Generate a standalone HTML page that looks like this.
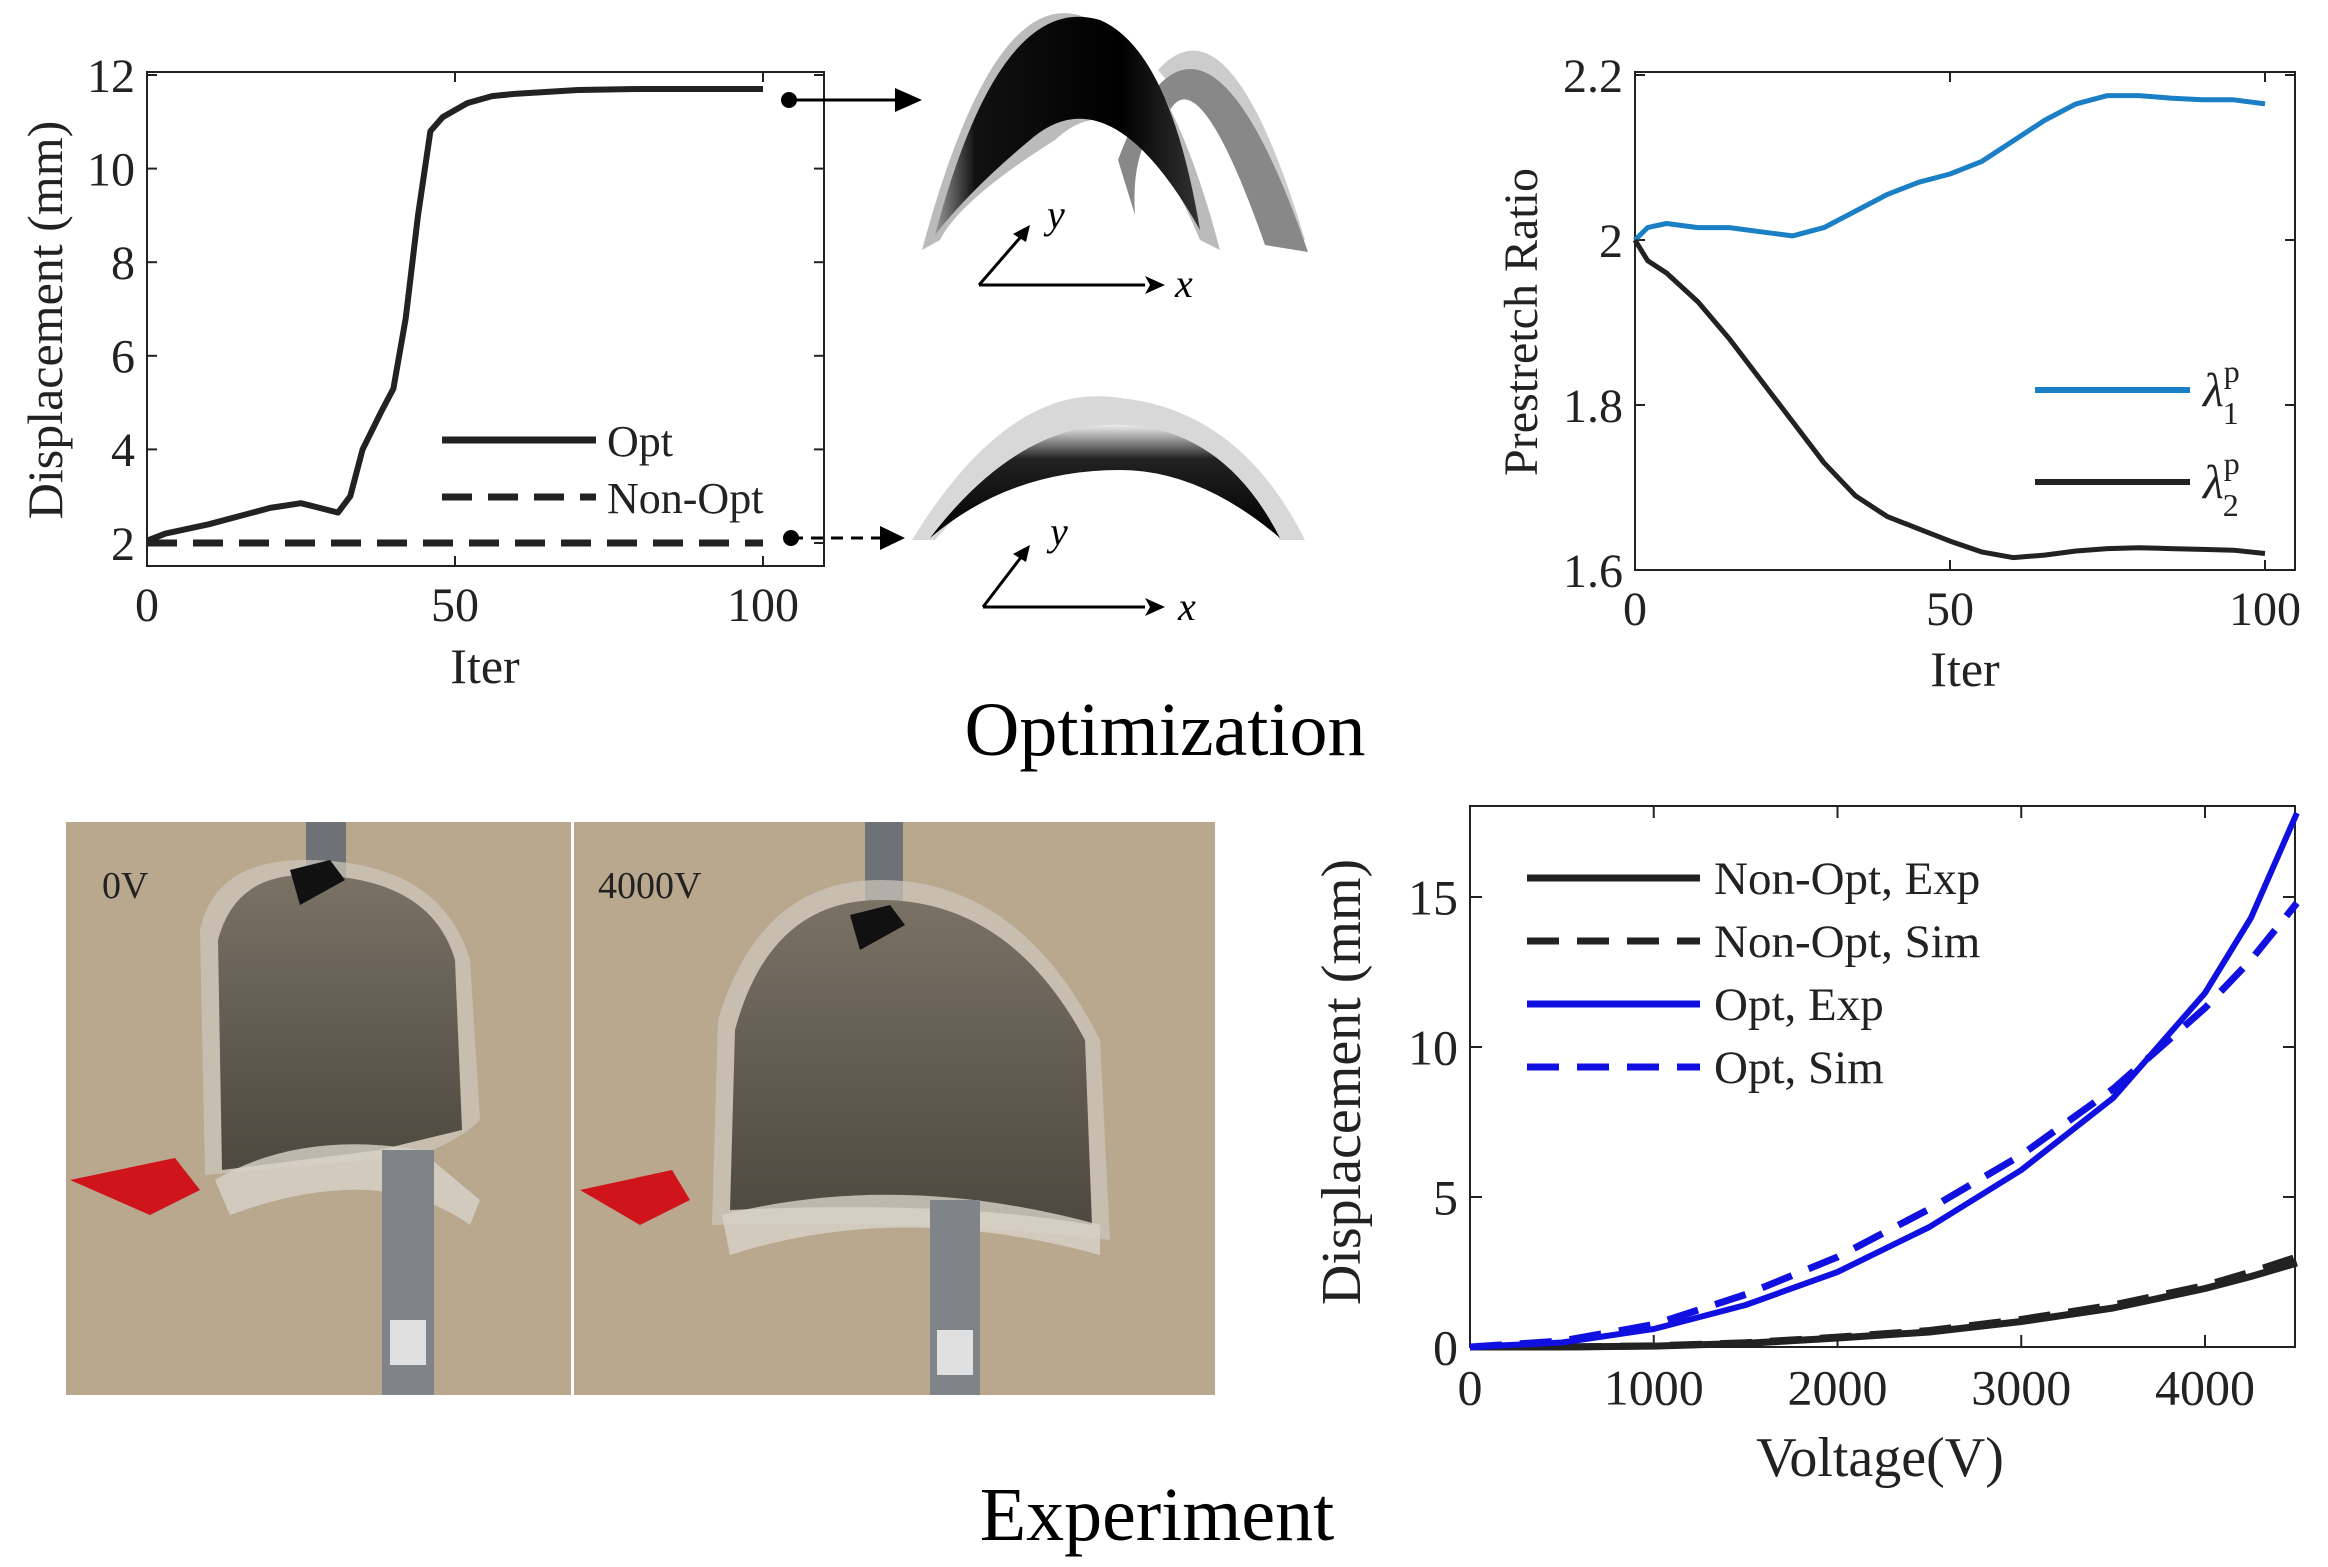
<!DOCTYPE html>
<html><head><meta charset="utf-8">
<style>
html,body{margin:0;padding:0;background:#fff;}
svg{display:block;font-family:"Liberation Serif",serif;}
</style></head>
<body>
<svg id="fig" width="2328" height="1567" viewBox="0 0 2328 1567" xmlns="http://www.w3.org/2000/svg">
<defs>
  <linearGradient id="gdark" x1="0" y1="0" x2="1" y2="0">
    <stop offset="0" stop-color="#999"/><stop offset="0.15" stop-color="#111"/><stop offset="0.7" stop-color="#000"/><stop offset="1" stop-color="#333"/>
  </linearGradient>
  <linearGradient id="gflat" x1="0" y1="0" x2="0" y2="1">
    <stop offset="0" stop-color="#eee"/><stop offset="0.3" stop-color="#222"/><stop offset="1" stop-color="#000"/>
  </linearGradient>
  <linearGradient id="gmem" x1="0" y1="0" x2="0" y2="1">
    <stop offset="0" stop-color="#7a7264"/><stop offset="0.6" stop-color="#5e584e"/><stop offset="1" stop-color="#4e4940"/>
  </linearGradient>
</defs>

<!-- ===== Top-left chart ===== -->
<g id="tl">
  <rect x="147" y="72" width="677" height="494" fill="#fff" stroke="#222" stroke-width="2"/>
  <text transform="translate(62,320) rotate(-90)" text-anchor="middle" font-size="50" fill="#222">Displacement (mm)</text>
  <text x="485" y="683" text-anchor="middle" font-size="50" fill="#222">Iter</text>
  <g>
    <line x1="442" y1="440" x2="596" y2="440" stroke="#222" stroke-width="7"/>
    <text x="607" y="456" font-size="44" fill="#222">Opt</text>
    <line x1="442" y1="497" x2="596" y2="497" stroke="#222" stroke-width="7" stroke-dasharray="30,16"/>
    <text x="607" y="513" font-size="44" fill="#222">Non-Opt</text>
  </g>
</g>

<!-- shapes -->
<g>
  <path d="M1158,70 Q1230,-10 1305,240 L1285,240 Q1230,40 1175,90 Z" fill="#ccc"/>
  <path d="M1118,160 Q1200,-60 1308,252 L1265,245 Q1200,60 1170,110 Q1130,140 1135,215 Z" fill="#888"/>
  <path d="M922,250 Q1000,-40 1100,25 Q1170,60 1220,250 L1200,240 Q1130,70 1055,140 Q960,200 940,240 Z" fill="#bbb"/>
  <path d="M935,235 Q1000,-10 1100,20 Q1170,50 1200,230 Q1110,70 1030,140 Q970,190 935,235 Z" fill="url(#gdark)"/>
  <line x1="979" y1="285" x2="1145" y2="285" stroke="#000" stroke-width="3"/>
  <polygon points="1145,276 1150,285 1145,294 1165,285" fill="#000"/>
  <line x1="979" y1="285" x2="1025" y2="232" stroke="#000" stroke-width="3"/>
  <polygon points="1030,225 1013,234 1026,242" fill="#000"/>
  <text x="1047" y="228" font-size="40" font-style="italic" fill="#000">y</text>
  <text x="1175" y="297" font-size="40" font-style="italic" fill="#000">x</text>
</g>
<g>
  <path d="M912,540 Q1010,380 1120,398 Q1240,410 1305,540 L1280,540 Q1220,440 1130,440 Q1020,440 935,540 Z" fill="#d8d8d8"/>
  <path d="M930,538 Q1020,420 1125,425 Q1225,430 1280,538 Q1200,470 1120,470 Q1010,470 930,538 Z" fill="url(#gflat)"/>
  <line x1="983" y1="607" x2="1145" y2="607" stroke="#000" stroke-width="3"/>
  <polygon points="1145,598 1150,607 1145,616 1165,607" fill="#000"/>
  <line x1="983" y1="607" x2="1025" y2="552" stroke="#000" stroke-width="3"/>
  <polygon points="1030,545 1013,554 1026,562" fill="#000"/>
  <text x="1050" y="545" font-size="40" font-style="italic" fill="#000">y</text>
  <text x="1178" y="620" font-size="40" font-style="italic" fill="#000">x</text>
</g>
<g>
  <circle cx="789" cy="100" r="8" fill="#000"/>
  <line x1="789" y1="100" x2="895" y2="100" stroke="#000" stroke-width="3"/>
  <polygon points="895,88 922,100 895,112" fill="#000"/>
  <circle cx="791" cy="538" r="8" fill="#000"/>
  <line x1="791" y1="538" x2="880" y2="538" stroke="#000" stroke-width="3" stroke-dasharray="12,8"/>
  <polygon points="880,526 905,538 880,550" fill="#000"/>
</g>

<!-- ===== Top-right chart ===== -->
<g id="tr">
  <rect x="1635" y="72" width="660" height="498" fill="#fff" stroke="#222" stroke-width="2"/>
  <text transform="translate(1537,322) rotate(-90)" text-anchor="middle" font-size="48" fill="#222">Prestretch Ratio</text>
  <text x="1965" y="686" text-anchor="middle" font-size="50" fill="#222">Iter</text>
  <g>
    <line x1="2035" y1="390" x2="2190" y2="390" stroke="#1a7fc4" stroke-width="6"/>
    <text x="2203" y="406" font-size="48" fill="#222"><tspan font-style="italic">λ</tspan><tspan font-size="32" dy="-24">p</tspan><tspan font-size="32" dx="-17" dy="42">1</tspan></text>
    <line x1="2035" y1="482" x2="2190" y2="482" stroke="#222" stroke-width="6"/>
    <text x="2203" y="498" font-size="48" fill="#222"><tspan font-style="italic">λ</tspan><tspan font-size="32" dy="-24">p</tspan><tspan font-size="32" dx="-17" dy="42">2</tspan></text>
  </g>
</g>

<text x="1165" y="755" text-anchor="middle" font-size="76" fill="#000">Optimization</text>

<!-- ===== Photos ===== -->
<g>
  <g>
    <rect x="66" y="822" width="505" height="573" fill="#b9a88e"/>
    <rect x="306" y="822" width="40" height="70" fill="#6e7276"/>
    <path d="M205,1175 L200,930 Q215,860 305,860 Q440,860 470,960 L480,1120 Q460,1140 420,1155 Z" fill="#cfc8bd" opacity="0.7"/>
    <path d="M222,1170 L218,940 Q235,875 305,875 Q430,875 455,960 L462,1130 Q420,1140 380,1150 Z" fill="url(#gmem)"/>
    <path d="M290,870 L330,860 L345,880 L300,905 Z" fill="#111"/>
    <path d="M215,1180 Q300,1130 420,1150 L480,1200 L470,1225 Q380,1160 230,1215 Z" fill="#d8d2c8" opacity="0.8"/>
    <rect x="382" y="1150" width="52" height="245" fill="#7f8488"/>
    <rect x="390" y="1320" width="36" height="45" fill="#e0e0e0"/>
    <path d="M70,1180 L175,1158 L200,1190 L150,1215 Z" fill="#d0141c"/>
    <text x="102" y="898" font-size="38" fill="#222">0V</text>
  </g>
  <rect x="571" y="822" width="3" height="573" fill="#fff"/>
  <g>
    <rect x="574" y="822" width="641" height="573" fill="#b9a88e"/>
    <rect x="865" y="822" width="38" height="100" fill="#6e7276"/>
    <path d="M712,1225 L718,1020 Q760,880 880,880 Q1020,880 1100,1040 L1110,1240 Q950,1220 712,1225 Z" fill="#cfc8bd" opacity="0.7"/>
    <path d="M730,1210 L735,1030 Q770,900 880,900 Q1010,900 1085,1040 L1092,1225 Q950,1200 730,1210 Z" fill="url(#gmem)"/>
    <path d="M850,915 L890,905 L905,925 L860,950 Z" fill="#111"/>
    <path d="M722,1215 Q900,1170 1100,1225 L1100,1255 Q900,1200 730,1255 Z" fill="#d8d2c8" opacity="0.8"/>
    <rect x="930" y="1200" width="50" height="195" fill="#7f8488"/>
    <rect x="937" y="1330" width="36" height="45" fill="#e0e0e0"/>
    <path d="M580,1190 L672,1170 L690,1200 L640,1225 Z" fill="#d0141c"/>
    <text x="598" y="898" font-size="38" fill="#222">4000V</text>
  </g>
</g>

<!-- ===== Bottom-right chart ===== -->
<g id="br">
  <rect x="1470" y="806" width="825" height="541" fill="#fff" stroke="#222" stroke-width="2"/>
  <text transform="translate(1360,1082) rotate(-90)" text-anchor="middle" font-size="56" fill="#222">Displacement (mm)</text>
  <text x="1880" y="1476" text-anchor="middle" font-size="56" fill="#222">Voltage(V)</text>
  <g>
    <line x1="1527" y1="878" x2="1700" y2="878" stroke="#222" stroke-width="7"/>
    <text x="1714" y="894" font-size="47" fill="#222">Non-Opt, Exp</text>
    <line x1="1527" y1="941" x2="1700" y2="941" stroke="#222" stroke-width="7" stroke-dasharray="32,18"/>
    <text x="1714" y="957" font-size="47" fill="#222">Non-Opt, Sim</text>
    <line x1="1527" y1="1004" x2="1700" y2="1004" stroke="#1010e0" stroke-width="7"/>
    <text x="1714" y="1020" font-size="47" fill="#222">Opt, Exp</text>
    <line x1="1527" y1="1067" x2="1700" y2="1067" stroke="#1010e0" stroke-width="7" stroke-dasharray="32,18"/>
    <text x="1714" y="1083" font-size="47" fill="#222">Opt, Sim</text>
  </g>
</g>

<text x="1157" y="1540" text-anchor="middle" font-size="76" fill="#000">Experiment</text>
</svg>

<script>
// ---- Top-left chart data ----
const tlIter = [0,3,10,20,25,28,31,33,35,38,40,42,44,46,48,52,56,60,70,80,100];
const tlOpt = [2.05,2.2,2.4,2.75,2.85,2.75,2.65,3.0,4.0,4.8,5.3,6.8,9.0,10.8,11.1,11.4,11.55,11.6,11.68,11.7,11.7];
const tlNonOptIter = [0,100];
const tlNonOpt = [2.0,2.0];
const tlXTicks = [0,50,100];
const tlYTicks = [2,4,6,8,10,12];

// ---- Top-right chart data ----
const trIter = [0,2,5,10,15,20,25,30,35,40,45,50,55,60,65,70,75,80,85,90,95,100];
const trLambda1 = [2.0,2.015,2.02,2.015,2.015,2.01,2.005,2.015,2.035,2.055,2.07,2.08,2.095,2.12,2.145,2.165,2.175,2.175,2.172,2.17,2.17,2.165];
const trLambda2 = [2.0,1.975,1.96,1.925,1.88,1.83,1.78,1.73,1.69,1.665,1.65,1.635,1.622,1.615,1.618,1.623,1.626,1.627,1.626,1.625,1.624,1.62];
const trXTicks = [0,50,100];
const trYTicks = [1.6,1.8,2,2.2];
const trYTickLabels = ["1.6","1.8","2","2.2"];

// ---- Bottom-right chart data ----
const brVolt = [0,500,1000,1500,2000,2500,3000,3500,4000,4250,4500];
const brOptExp = [0,0.15,0.6,1.4,2.5,4.0,5.9,8.3,11.8,14.3,17.8];
const brOptSim = [0,0.2,0.75,1.75,3.0,4.6,6.4,8.6,11.3,12.9,14.8];
const brNonExp = [0,0.0,0.03,0.12,0.3,0.5,0.85,1.3,1.95,2.35,2.8];
const brNonSim = [0,0.0,0.04,0.14,0.33,0.55,0.92,1.4,2.05,2.5,3.0];
const brXTicks = [0,1000,2000,3000,4000];
const brYTicks = [0,5,10,15];

const NS = "http://www.w3.org/2000/svg";
function mk(tag, attrs, parent){const e=document.createElementNS(NS,tag);for(const k in attrs)e.setAttribute(k,attrs[k]);parent.appendChild(e);return e;}

function axes(g, box, xs, ys, xt, yt, ylabels, fs, tlen){
  xt.forEach((v,i)=>{
    const x=xs(v);
    const t1=mk('line',{x1:x,y1:box.b,x2:x,y2:box.b-tlen,stroke:'#222','stroke-width':2},g);
    
    
    mk('line',{x1:x,y1:box.t,x2:x,y2:box.t+tlen,stroke:'#222','stroke-width':2},g);
    const tx=mk('text',{x:x,y:box.b+fs*1.15,'text-anchor':'middle','font-size':fs,fill:'#222'},g);
    tx.textContent=String(v);
    
    
  });
  yt.forEach((v,i)=>{
    const y=ys(v);
    const t1=mk('line',{x1:box.l,y1:y,x2:box.l+tlen,y2:y,stroke:'#222','stroke-width':2},g);
    
    
    mk('line',{x1:box.r,y1:y,x2:box.r-tlen,y2:y,stroke:'#222','stroke-width':2},g);
    const tx=mk('text',{x:box.l-12,y:y+fs*0.35,'text-anchor':'end','font-size':fs,fill:'#222'},g);
    tx.textContent=ylabels?ylabels[i]:String(v);
    
    
  });
}
function series(g, xsArr, ysArr, xs, ys, color, dash, w, name){
  const d=xsArr.map((v,i)=>(i?'L':'M')+xs(v).toFixed(1)+','+ys(ysArr[i]).toFixed(1)).join(' ');
  const p=mk('path',{d:d,fill:'none',stroke:color,'stroke-width':w,'stroke-linejoin':'round','stroke-linecap':'butt'},g);
  if(dash)p.setAttribute('stroke-dasharray',dash);
  
  
}

// Top-left
(function(){
  const g=document.getElementById('tl');
  const box={l:147,r:824,t:72,b:566};
  const xs=v=>147+v*6.16, ys=v=>543-(v-2)*46.8;
  axes(g,box,xs,ys,tlXTicks,tlYTicks,null,48,10);
  series(g,tlNonOptIter,tlNonOpt,xs,ys,'#222','30,16',7,'non-opt-line');
  series(g,tlIter,tlOpt,xs,ys,'#222',null,6,'opt-line');
})();
// Top-right
(function(){
  const g=document.getElementById('tr');
  const box={l:1635,r:2295,t:72,b:570};
  const xs=v=>1635+v*6.3, ys=v=>570-(v-1.6)*825;
  axes(g,box,xs,ys,trXTicks,trYTicks,trYTickLabels,48,10);
  series(g,trIter,trLambda1,xs,ys,'#1a7fc4',null,5,'lambda1-line');
  series(g,trIter,trLambda2,xs,ys,'#222',null,5,'lambda2-line');
})();
// Bottom-right
(function(){
  const g=document.getElementById('br');
  const box={l:1470,r:2295,t:806,b:1347};
  const xs=v=>1470+v*0.18375, ys=v=>1347-v*30;
  axes(g,box,xs,ys,brXTicks,brYTicks,null,50,12);
  series(g,brVolt,brNonSim,xs,ys,'#222','32,18',7,'nonopt-sim-line');
  series(g,brVolt,brNonExp,xs,ys,'#222',null,7,'nonopt-exp-line');
  series(g,brVolt,brOptSim,xs,ys,'#1010e0','32,18',7,'opt-sim-line');
  series(g,brVolt,brOptExp,xs,ys,'#1010e0',null,6,'opt-exp-line');
})();
</script>
</body></html>
